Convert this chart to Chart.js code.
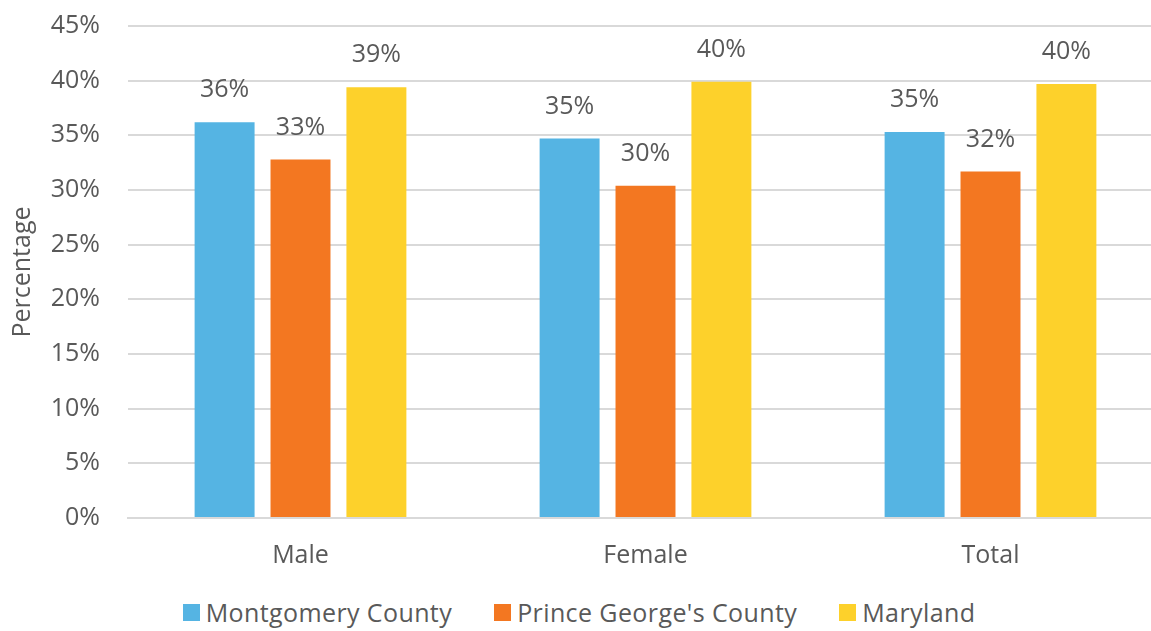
<!DOCTYPE html>
<html>
<head>
<meta charset="utf-8">
<script src="https://cdn.jsdelivr.net/npm/chart.js@4.4.1/dist/chart.umd.min.js"></script>
<style>
  html, body { margin: 0; padding: 0; background: #fff; overflow: hidden; }
  #wrap { width: 1163px; height: 631px; position: relative; }
  #lienzo { position: absolute; left: 0; top: 0; width: 1163px; height: 586px; }
  #leyenda {
    position: absolute; left: 0; top: 595px; width: 1158px; height: 34px;
    display: flex; justify-content: center; align-items: center;
    font-family: "Open Sans", "DejaVu Sans", sans-serif; font-size: 25px; color: #595959;
    letter-spacing: 0.4px;
  }
  #leyenda .item { display: flex; align-items: center; margin: 0 21px; white-space: nowrap; }
  #leyenda .caja { width: 17px; height: 17px; margin-right: 6px; }
</style>
</head>
<body>
<div id="wrap">
  <div id="lienzo"><canvas id="grafico"></canvas></div>
  <div id="leyenda"></div>
</div>
<script>
// --- datos del gráfico ---
const categorias = ['Male', 'Female', 'Total'];
const series = ['Montgomery County', "Prince George's County", 'Maryland'];
const colores = ['#55B4E3', '#F37721', '#FDD12B'];
const montgomery = [36.2, 34.7, 35.3];
const princeGeorges = [32.8, 30.4, 31.7];
const maryland = [39.4, 39.9, 39.7];
const ticksY = [0, 5, 10, 15, 20, 25, 30, 35, 40, 45];

const grisTexto = '#595959';
const fuente = '"Open Sans", "DejaVu Sans", sans-serif';
const tam = 25;

// etiquetas de valor encima de cada barra
const etiquetasBarras = {
    id: 'etiquetasBarras',
    afterDatasetsDraw(chart) {
        const ctx = chart.ctx;
        ctx.save();
        ctx.fillStyle = grisTexto;
        ctx.font = tam + 'px ' + fuente;
        ctx.textAlign = 'center';
        ctx.textBaseline = 'middle';
        chart.data.datasets.forEach((ds, i) => {
            chart.getDatasetMeta(i).data.forEach((bar, j) => {
                ctx.fillText(Math.round(ds.data[j]) + '%', bar.x, bar.y - 32);
            });
        });
        ctx.restore();
    }
};

const ctx = document.getElementById('grafico').getContext('2d');
const grafico = new Chart(ctx, {
    type: 'bar',
    data: {
        labels: categorias,
        datasets: [
            { label: series[0], data: montgomery, backgroundColor: colores[0] },
            { label: series[1], data: princeGeorges, backgroundColor: colores[1] },
            { label: series[2], data: maryland, backgroundColor: colores[2] }
        ]
    },
    options: {
        responsive: true,
        maintainAspectRatio: false,
        animation: false,
        layout: { padding: { top: 0, right: 0, left: 8, bottom: 0 } },
        datasets: { bar: { barPercentage: 0.79, categoryPercentage: 0.66 } },
        plugins: {
            legend: { display: false },
            tooltip: { enabled: false }
        },
        scales: {
            x: {
                grid: { display: false },
                border: { color: '#d9d9d9', width: 2 },
                ticks: { color: grisTexto, font: { family: fuente, size: tam }, padding: 15 }
            },
            y: {
                min: 0,
                max: 45,
                afterBuildTicks: (axis) => { axis.ticks = ticksY.map(v => ({ value: v })); },
                afterFit: (axis) => {
                    axis.width = 120;
                    axis.paddingTop = 26;
                    axis.paddingBottom = 0;
                },
                grid: { color: '#d9d9d9', lineWidth: 2, drawTicks: false },
                border: { display: false },
                ticks: {
                    color: grisTexto,
                    font: { family: fuente, size: tam },
                    padding: 28,
                    callback: v => v + '%'
                },
                title: {
                    display: true,
                    text: 'Percentage',
                    color: grisTexto,
                    font: { family: fuente, size: tam },
                    padding: 0
                }
            }
        }
    },
    plugins: [etiquetasBarras]
});

// leyenda en HTML con los mismos colores y nombres de serie
const leyenda = document.getElementById('leyenda');
series.forEach((nombre, i) => {
    const item = document.createElement('div');
    item.className = 'item';
    const caja = document.createElement('span');
    caja.className = 'caja';
    caja.style.background = colores[i];
    const texto = document.createElement('span');
    texto.textContent = nombre;
    item.appendChild(caja);
    item.appendChild(texto);
    leyenda.appendChild(item);
});
</script>
</body>
</html>
